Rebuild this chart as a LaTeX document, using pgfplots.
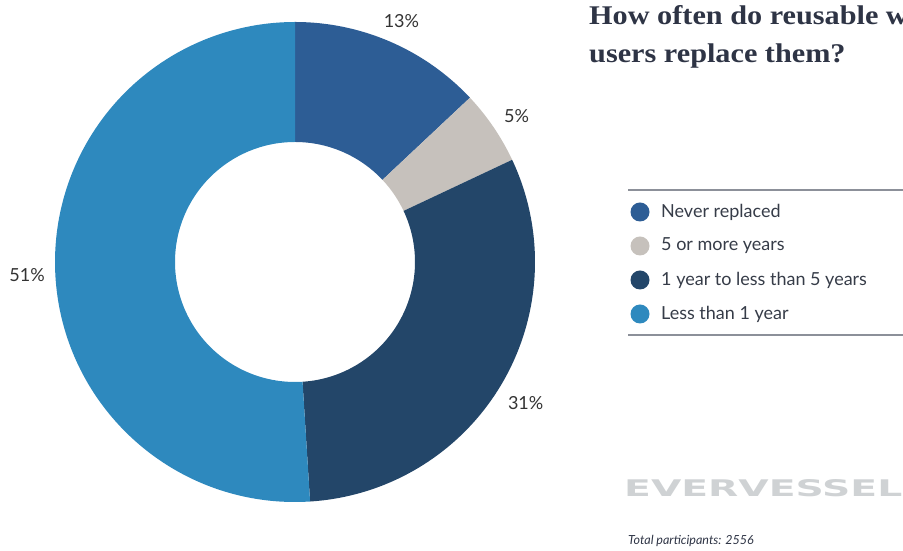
\documentclass[border=0pt]{standalone}
\usepackage{pgfplots}
\pgfplotsset{compat=1.18}
\usepackage{pgfplotstable}
\usepackage{graphicx}
\usepackage{fontspec}
\setmainfont{Lato}
\newfontfamily\titlefont[FakeStretch=1.12]{Liberation Serif}
\newfontfamily\logofont{DejaVu Sans}
\definecolor{c1}{HTML}{2D5D95}
\definecolor{c2}{HTML}{C6C1BC}
\definecolor{c3}{HTML}{234669}
\definecolor{c4}{HTML}{2E89BE}
\definecolor{txt}{HTML}{333333}
\definecolor{legtxt}{HTML}{363C48}
\definecolor{titlec}{HTML}{2E3445}
\definecolor{rulec}{HTML}{8C9099}
\definecolor{logoc}{HTML}{CFD2D4}

\pgfplotstableread{
value col label
13 c1 {Never replaced}
5 c2 {5 or more years}
31 c3 {1 year to less than 5 years}
51 c4 {Less than 1 year}
}\piedata

\begin{document}
\begin{tikzpicture}[x=1pt,y=1pt]
\path[use as bounding box] (0,0) rectangle (903,551);
\begin{axis}[at={(0,0)}, anchor=south west, x=1pt, y=1pt,
  xmin=0, xmax=903, ymin=0, ymax=551, hide axis, clip=false, scale only axis]
  \def\cx{295}\def\cy{289}\def\R{240}\def\r{120}\def\lr{268}
  \def\ang{90}
  \pgfplotsforeachungrouped \i in {0,...,3}{%
    \pgfplotstablegetelem{\i}{value}\of\piedata \let\v\pgfplotsretval
    \pgfplotstablegetelem{\i}{col}\of\piedata \let\c\pgfplotsretval
    \pgfplotstablegetelem{\i}{label}\of\piedata \let\lab\pgfplotsretval
    \pgfmathsetmacro\a{\ang}%
    \pgfmathsetmacro\b{\ang-3.6*\v}%
    \pgfmathsetmacro\m{(\a+\b)/2}%
    \pgfmathsetmacro\ly{339-34*\i}%
    \edef\temp{%
      \noexpand\fill[\c] (axis cs:{\cx+\R*cos(\a)},{\cy+\R*sin(\a)}) arc[start angle=\a, end angle=\b, radius=\R]
        -- (axis cs:{\cx+\r*cos(\b)},{\cy+\r*sin(\b)}) arc[start angle=\b, end angle=\a, radius=\r] -- cycle;
      \noexpand\node[font=\noexpand\fontsize{18}{21}\noexpand\selectfont, text=txt]
        at (axis cs:{\cx+\lr*cos(\m)},{\cy-5+\lr*sin(\m)}) {\v\noexpand\%};
      \noexpand\fill[\c] (axis cs:640,\ly) circle[radius=9.5];
      \noexpand\node[anchor=west, inner sep=0pt, font=\noexpand\fontsize{18}{21}\noexpand\selectfont, text=legtxt]
        at (axis cs:661,\ly) {\lab};
    }%
    \temp
    \global\let\ang\b
  }
  \draw[rulec, line width=2pt] (axis cs:628,361) -- (axis cs:910,361);
  \draw[rulec, line width=2pt] (axis cs:628,216) -- (axis cs:910,216);
  \node[anchor=base west, inner sep=0pt, text=titlec, font=\titlefont\bfseries\fontsize{27}{32}\selectfont]
    at (axis cs:589,526) {How often do reusable water bottle};
  \node[anchor=base west, inner sep=0pt, text=titlec, font=\titlefont\bfseries\fontsize{27}{32}\selectfont]
    at (axis cs:589,488) {users replace them?};
  \node[anchor=south west, inner sep=0pt, text=logoc] at (axis cs:624,54)
    {\resizebox{278pt}{17pt}{\logofont\bfseries EVERVESSEL}};
  \node[anchor=base west, inner sep=0pt, text=titlec, font=\itshape\fontsize{12.5}{15}\selectfont]
    at (axis cs:628,6) {Total participants: 2556};
\end{axis}
\end{tikzpicture}
\end{document}
